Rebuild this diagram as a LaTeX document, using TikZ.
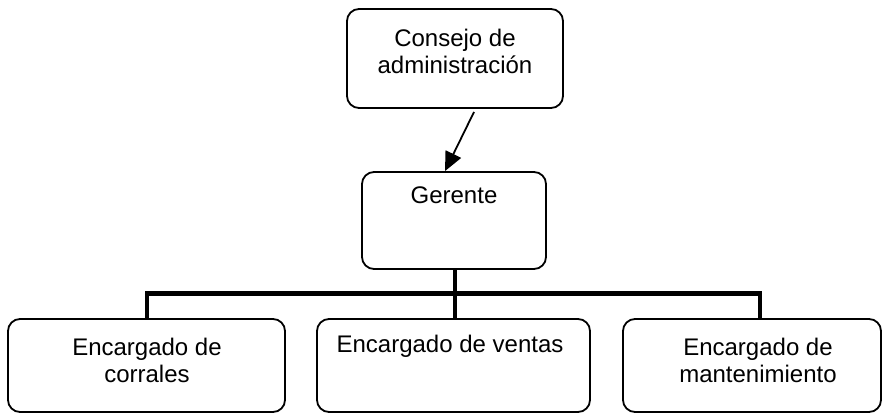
\documentclass[tikz,border=0pt]{standalone}
\usepackage{fontspec}
\setmainfont{Liberation Sans}
\usetikzlibrary{arrows.meta}
\begin{document}
\begin{tikzpicture}[x=1pt,y=-1pt,
  box/.style={draw=black,line width=1.8pt,rounded corners=12pt,inner sep=0pt},
  txt/.style={anchor=base,inner sep=0pt,font=\fontsize{24}{27}\selectfont},
  bus/.style={line width=5pt},
  stem/.style={line width=4pt}]
\useasboundingbox (0,0) rectangle (883,414);
% boxes
\node[box,minimum width=216pt,minimum height=99pt] (cons) at (455,58.5) {};
\node[box,minimum width=184pt,minimum height=97pt] (ger) at (454,220.5) {};
\node[box,minimum width=277pt,minimum height=93pt] (cor) at (146.5,365.5) {};
\node[box,minimum width=273pt,minimum height=93pt] (ven) at (453.5,365.5) {};
\node[box,minimum width=258pt,minimum height=93pt] (man) at (752,365.5) {};
% texts
\node[txt] (t1) at (455,47) {Consejo de};
\node[txt] (t2) at (455,74) {administración};
\node[txt] (t3) at (454,204) {Gerente};
\node[txt] (t4) at (147,355) {Encargado de};
\node[txt] (t5) at (147,382) {corrales};
\node[txt] (t6) at (450,352) {Encargado de ventas};
\node[txt] (t7) at (758,355) {Encargado de};
\node[txt] (t8) at (758,382) {mantenimiento};
% arrow
\coordinate (a0) at (474,112);
\draw[line width=1.8pt,-{Triangle[length=19pt,width=17pt]}] (a0) -- (ger.north -| 445,0);
% org lines
\coordinate (bl) at (147,293);
\coordinate (bm) at (455,293);
\coordinate (br) at (760,293);
\draw[stem] (ger.south -| bm) -- (bm);
\draw[bus] ([xshift=-2pt]bl) -- ([xshift=2pt]br);
\draw[stem,line cap=rect] (bl) -- (cor.north -| bl);
\draw[stem] (bm) -- (ven.north -| bm);
\draw[stem,line cap=rect] (br) -- (man.north -| br);
\end{tikzpicture}
\end{document}
